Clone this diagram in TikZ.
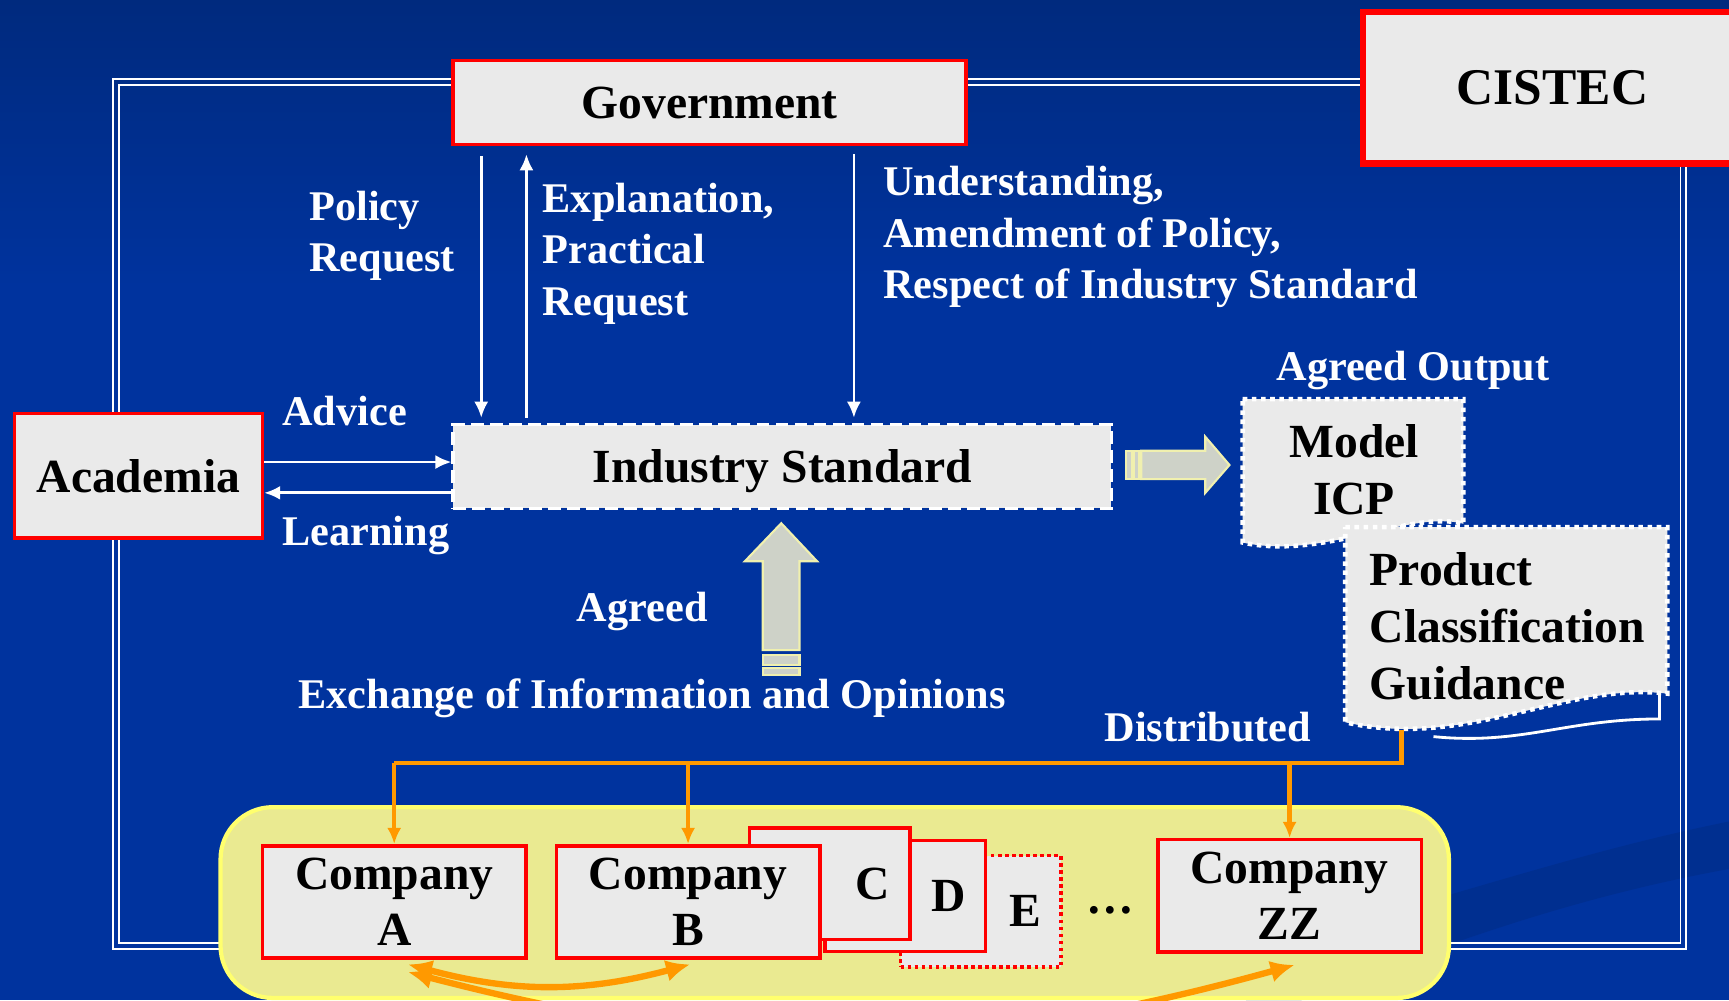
\documentclass[tikz,border=0pt]{standalone}
\usepackage{fontspec}
\setmainfont{Liberation Serif}
\usetikzlibrary{arrows.meta}
\definecolor{bgtop}{RGB}{0,42,126}
\definecolor{bgmain}{RGB}{0,51,158}
\definecolor{bgswoosh}{RGB}{0,47,144}
\definecolor{boxgray}{RGB}{234,234,234}
\definecolor{boxred}{RGB}{255,0,0}
\definecolor{distorange}{RGB}{255,153,0}
\definecolor{grpyellow}{RGB}{234,234,145}
\definecolor{grpedge}{RGB}{255,255,110}
\definecolor{fatfill}{RGB}{206,210,200}
\definecolor{fatedge}{RGB}{240,240,175}
\tikzset{%
  >={Latex[width=1.4mm,length=1.6mm]},
  % Specifications for style of nodes:
            base/.style = {rectangle, draw=boxred, fill=boxgray, line width=1pt,
                           inner sep=0pt, align=center, text=black,
                           font=\bfseries\fontsize{13.5}{15.9}\selectfont},
             box/.style = {base},
       cistecbox/.style = {base, line width=1.9pt,
                           font=\bfseries\fontsize{14.6}{17}\selectfont},
          stdbox/.style = {base, draw=white, dash pattern=on 3.6pt off 1.8pt,
                           text depth=0pt},
         compbox/.style = {base, minimum width=2.629cm, minimum height=1.122cm},
         backbox/.style = {base, minimum height=1.11cm, text width=1.2cm,
                           inner xsep=0.2cm, align=right},
         dotpbox/.style = {backbox, line width=0.9pt, dash pattern=on 1pt off 1pt},
         tagtext/.style = {text=white, inner sep=0pt, align=left,
                           font=\bfseries\fontsize{12}{14.6}\selectfont},
         doctext/.style = {inner sep=0pt, text=black,
                           font=\bfseries\fontsize{13.5}{16.2}\selectfont},
  % Specifications for lines and shapes:
           frame/.style = {draw=white, line width=0.55pt},
           wline/.style = {draw=white, line width=0.8pt},
           oline/.style = {draw=distorange, line width=1.2pt},
            oarc/.style = {draw=distorange, line width=1.8pt,
                           >={Latex[width=2.2mm,length=2.4mm]}},
         docpage/.style = {fill=boxgray, draw=white, line width=1.3pt,
                           dash pattern=on 1.3pt off 1.3pt},
        fatarrow/.style = {fill=fatfill, draw=fatedge, line width=0.6pt},
        grpplate/.style = {fill=grpyellow, draw=grpedge, line width=1.2pt,
                           rounded corners=0.52cm}
}
\begin{document}
\begin{tikzpicture}[x=0.011cm, y=-0.011cm]
  % background, swoosh and double frame
  \useasboundingbox (0,0) rectangle (1568,907);
  \clip (0,0) rectangle (1568,907);
  \shade[top color=bgtop, bottom color=bgmain] (0,0) rectangle (1568,260);
  \fill[bgmain] (0,259) rectangle (1568,907);
  \fill[bgswoosh] (1130,862) .. controls (1300,820) and (1420,775) .. (1568,745)
    -- (1568,788) .. controls (1420,815) and (1300,860) .. (1180,907) -- (1130,907) -- cycle;
  \draw[frame] (102.5,71.7) rectangle (1529,861);
  \draw[frame] (108,77) rectangle (1524,855);

  % Specification of nodes (position, etc.)
  \node (gov)    [box, minimum width=5.115cm, minimum height=0.836cm] at (643.5,93) {Government};
  \node (cistec) [cistecbox, minimum width=3.784cm, minimum height=1.507cm] at (1408,79.5) {CISTEC};
  \node (acad)   [box, minimum width=2.475cm, minimum height=1.243cm] at (125.5,431.5) {Academia};
  \node (indstd) [stdbox, minimum width=6.567cm, minimum height=0.836cm] at (709.5,423) {Industry Standard};

  % arrows between government, academia and the standard
  \draw[wline,->] ([xshift=0.297cm, yshift=-0.1cm]gov.south west)
    -- ([xshift=0.297cm, yshift=0.05cm]gov.south west |- indstd.north);
  \draw[wline,->] ([xshift=0.748cm, yshift=0.05cm]gov.south west |- indstd.north)
    -- ([xshift=0.748cm, yshift=-0.08cm]gov.south west);
  \draw[wline,->] ([xshift=4.015cm, yshift=-0.08cm]gov.south west)
    -- ([xshift=4.015cm, yshift=0.05cm]gov.south west |- indstd.north);
  \draw[wline,->] ([yshift=0.1375cm]acad.east) -- ([yshift=0.1375cm]acad.east -| indstd.west);
  \draw[wline,->] ([yshift=-0.17cm]acad.east -| indstd.west) -- ([yshift=-0.17cm]acad.east);

  % labels
  \node (policy)  [tagtext, anchor=west] at (280,214) {Policy\\Request};
  \node (explain) [tagtext, anchor=west] at (491.6,229.8) {Explanation,\\Practical\\Request};
  \node (underst) [tagtext, anchor=west] at (800.4,215) {Understanding,\\Amendment of Policy,\\Respect of Industry Standard};
  \node (advice)  [tagtext, anchor=base west] at (255.5,385.5) {Advice};
  \node (learn)   [tagtext, anchor=base west] at (255.5,495) {Learning};
  \node (agrout)  [tagtext, anchor=base west] at (1157,345) {Agreed Output};
  \node (agreed)  [tagtext, anchor=base west] at (522.6,564) {Agreed};
  \node (exch)    [tagtext, anchor=base west] at (270,642.5) {Exchange of Information and Opinions};
  \node (distrib) [tagtext, anchor=base west] at (1001,672.7) {Distributed};

  % block arrows
  \draw[fatarrow] (1021,408.8) rectangle (1027,434.5);
  \draw[fatarrow] (1028.5,408.8) rectangle (1033,434.5);
  \draw[fatarrow] (1035,408.8) -- (1093,408.8) -- (1093,396) -- (1115,421.7)
    -- (1093,447) -- (1093,434.5) -- (1035,434.5) -- cycle;
  \draw[fatarrow] (691.7,594) rectangle (725,603);
  \draw[fatarrow] (691.7,606) rectangle (725,612);
  \draw[fatarrow] (691.7,589.6) -- (691.7,509) -- (675.5,509) -- (708.5,474.5)
    -- (741,509) -- (725,509) -- (725,589.6) -- cycle;

  % output documents
  \draw[docpage] (1127,362) -- (1327,362) -- (1327,475)
    .. controls (1280,462) and (1200,508) .. (1127,492) -- cycle;
  \node (icp) [doctext, align=center] at (1228,426) {Model\\ICP};
  \draw[wline] (1505,629) -- (1505,652) .. controls (1420,652) and (1380,676) .. (1300,668);
  \draw[docpage] (1220,478) -- (1512,478) -- (1512,629)
    .. controls (1420,618) and (1330,680) .. (1220,655) -- cycle;
  \node (pcg) [doctext, align=left, anchor=west] at (1241.5,568.3) {Product\\Classification\\Guidance};
  \coordinate (pcgb) at (1271,662);
  \coordinate (dist) at (1271,692);

  % companies
  \draw[grpplate] (200,732) rectangle (1314,905);
  \node (compE)  [dotpbox, minimum width=1.6cm] at (889.5,826.5) {E};
  \node (compD)  [backbox] at (821,812.5) {D};
  \node (compC)  [backbox] at (752.5,801.5) {C};
  \node (compA)  [compbox] at (357.5,818) {Company\\A};
  \node (compB)  [compbox] at (624,818) {Company\\B};
  \node (compZZ) [compbox] at (1169.5,812.5) {Company\\ZZ};
  \node (more)   [doctext, anchor=base] at (1007,828) {…};

  % distribution lines
  \draw[oline] (pcgb) -- (dist) -- (dist -| compA.north);
  \draw[oline,->] (dist -| compA.north) -- (compA.north);
  \draw[oline,->] (dist -| compB.north) -- (compB.north);
  \draw[oline,->] (dist -| compZZ.north) -- (compZZ.north);
  \draw[oarc,<->] ([xshift=0.1375cm, yshift=-0.044cm]compA.south) to[bend right=15]
    ([xshift=0.02cm, yshift=-0.044cm]compB.south);
  \draw[oarc,<->] ([xshift=0.1375cm, yshift=-0.12cm]compA.south) to[bend right=15]
    ([xshift=0.05cm, yshift=-0.11cm]compZZ.south);
\end{tikzpicture}
\end{document}
